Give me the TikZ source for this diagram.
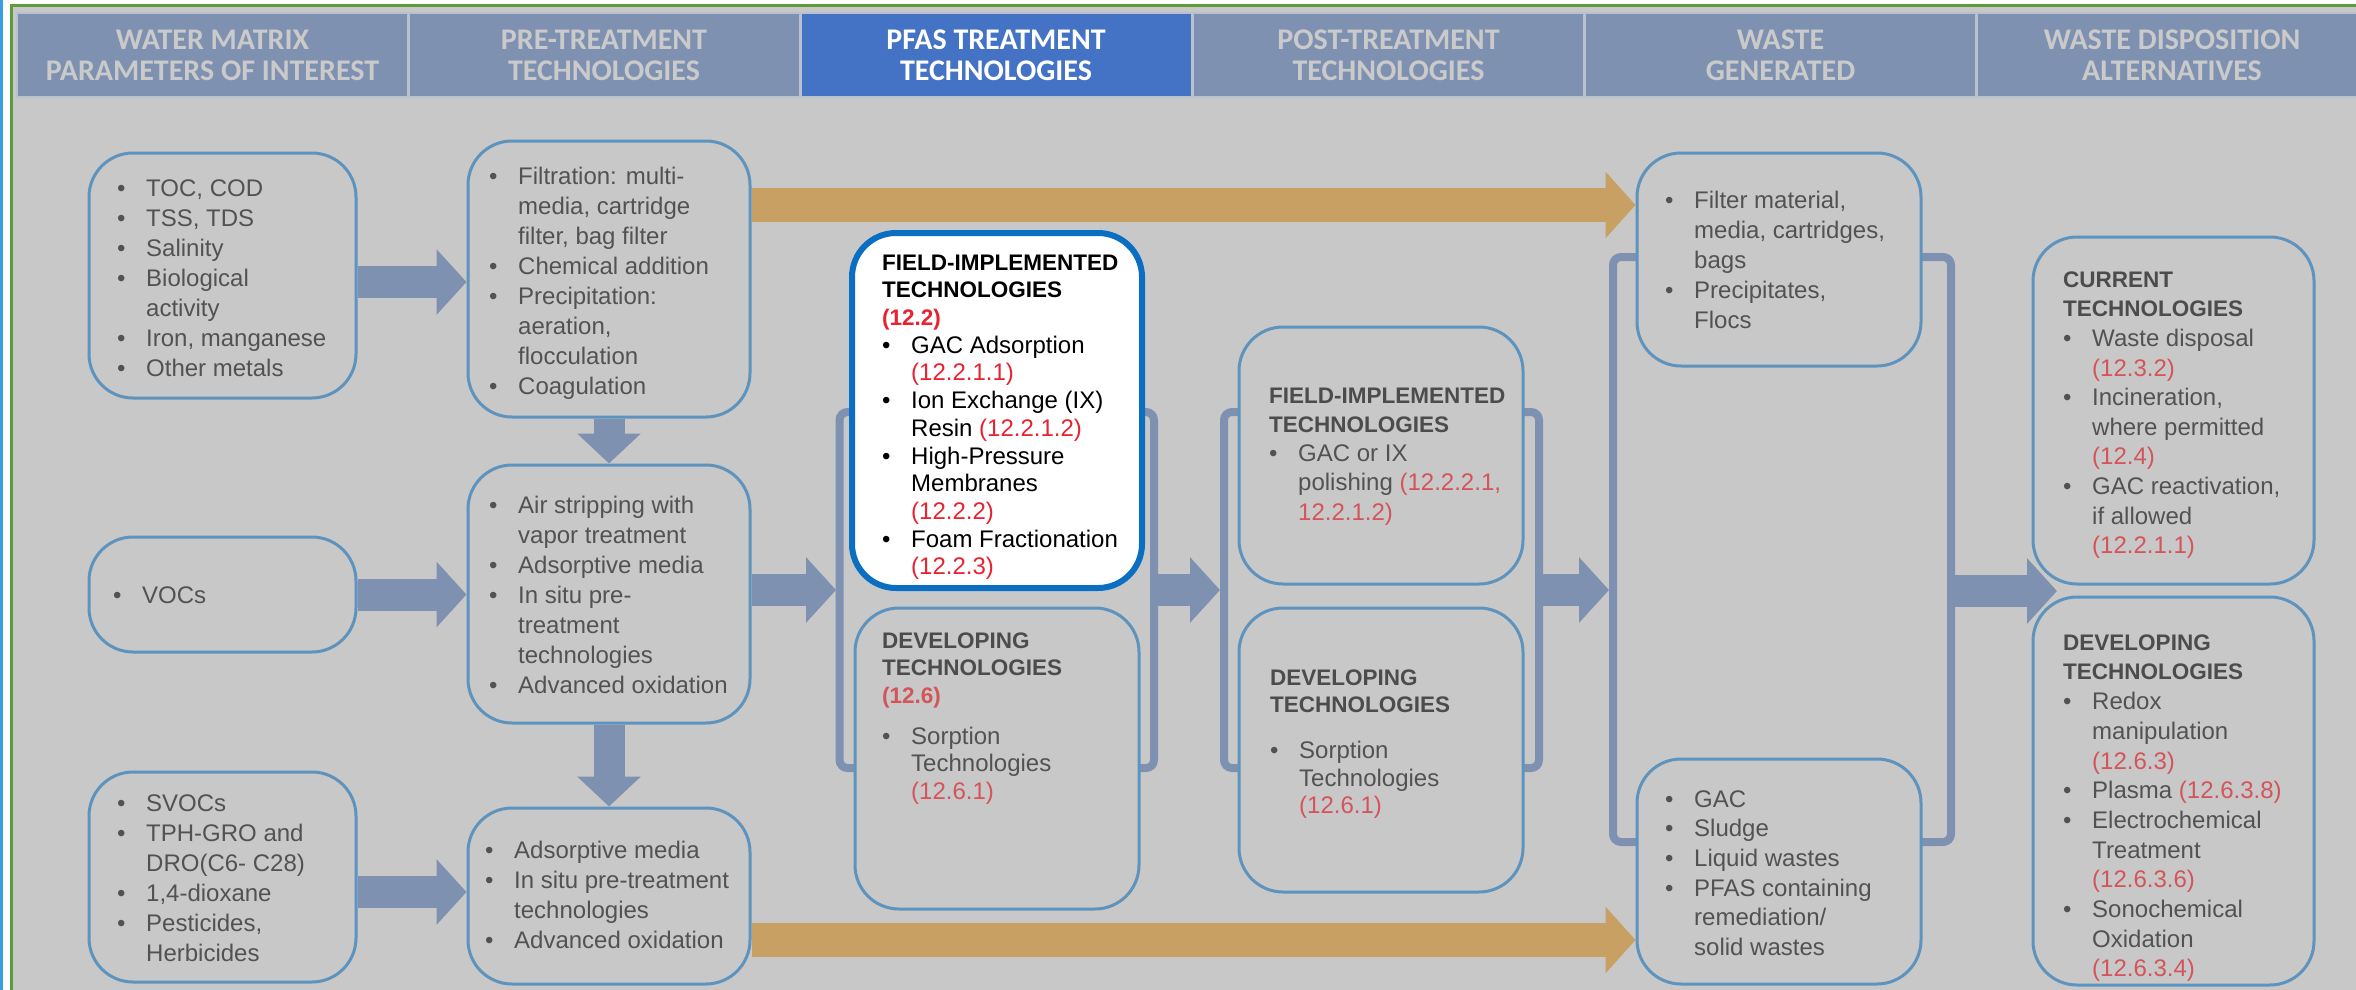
\documentclass[tikz,border=0pt]{standalone}
\usepackage{fontspec}
\setmainfont{Liberation Sans}
\newfontfamily\hdrfont{Carlito}
\usetikzlibrary{arrows.meta}
\pgfdeclarelayer{back}
\pgfdeclarelayer{mid}
\pgfsetlayers{back,mid,main}
\definecolor{bg}{HTML}{C8C8C8}
\definecolor{hdr}{HTML}{7F91B1}
\definecolor{hdrtxt}{HTML}{CACACA}
\definecolor{hdrblue}{HTML}{4472C4}
\definecolor{sepc}{HTML}{B9C1CF}
\definecolor{boxline}{HTML}{5E93BE}
\definecolor{flow}{HTML}{7F91B1}
\definecolor{gold}{HTML}{C9A063}
\definecolor{txt}{HTML}{525252}
\definecolor{htxt}{HTML}{4C4C4C}
\definecolor{ref}{HTML}{D4545A}
\definecolor{refb}{HTML}{E8232F}
\definecolor{dblue}{HTML}{0A6FC2}
\definecolor{frgreen}{HTML}{5E9B3A}
\definecolor{frblue}{HTML}{3A9FE0}
\newcommand\bu{\strut\makebox[29pt][l]{\textbullet}}
\newcommand\ind{\strut\hspace*{29pt}}
\newcommand\hd[1]{\strut{\fontsize{22.5}{27}\selectfont\bfseries #1}}
\newcommand\rf[1]{\textcolor{ref}{#1}}
\newcommand\rfb[1]{\textcolor{refb}{#1}}
\begin{document}
\begin{tikzpicture}[x=1pt,y=-1pt,
  hdrcell/.style={fill=hdr, draw=sepc, line width=2pt, minimum width=391pt, minimum height=84pt, inner sep=0pt, text=hdrtxt, align=center, font=\fontsize{30}{31}\hdrfont\bfseries},
  box/.style={draw=boxline, line width=3pt, rounded corners=44pt, fill=bg, inner sep=0pt},
  pbox/.style={draw=dblue, line width=6pt, rounded corners=44pt, fill=white, inner sep=0pt},
  txtblk/.style={anchor=north west, inner sep=0pt, align=left, text=txt},
  fs/.style={font=\fontsize{24}{#1}\selectfont},
  barrow/.style={draw=flow, line width=32pt, -{Triangle[length=30pt,width=64pt]}},
  darrow/.style={draw=flow, line width=31pt, -{Triangle[length=30pt,width=62pt]}},
  garrow/.style={draw=gold, line width=34pt, -{Triangle[length=30pt,width=65pt]}},
  bracket/.style={draw=flow, line width=8pt, rounded corners=8pt}
]
\useasboundingbox (0,0) rectangle (2356,990);
\begin{pgfonlayer}{back}
% background and frame
\fill[white] (0,0) rectangle (2356,990);
\fill[bg] (12,7) rectangle (2356,990);
\draw[frgreen, line width=3pt] (11,990) -- (11,5.5) -- (2356,5.5);
\draw[frblue, line width=3pt] (1.5,0) -- (1.5,990);
% header
\node[hdrcell] (h1) at (212.5,55) {WATER MATRIX\\PARAMETERS OF INTEREST};
\node[hdrcell] (h2) at (604,55) {PRE-TREATMENT\\TECHNOLOGIES};
\node[hdrcell, fill=hdrblue, text=white] (h3) at (996,55) {PFAS TREATMENT\\TECHNOLOGIES};
\node[hdrcell] (h4) at (1388.5,55) {POST-TREATMENT\\TECHNOLOGIES};
\node[hdrcell] (h5) at (1780.5,55) {WASTE\\GENERATED};
\node[hdrcell] (h6) at (2172,55) {WASTE DISPOSITION\\ALTERNATIVES};
\end{pgfonlayer}

% boxes
\node[box, minimum width=267pt, minimum height=245pt] (A1) at (222.5,275.5) {};
\node[box, minimum width=267pt, minimum height=115pt] (A2) at (222.5,594.5) {};
\node[box, minimum width=267pt, minimum height=210pt] (A3) at (222.5,877) {};
\node[box, minimum width=282pt, minimum height=276pt] (B1) at (609,279) {};
\node[box, minimum width=282pt, minimum height=258pt] (B2) at (609,594) {};
\node[box, minimum width=282pt, minimum height=176pt] (B3) at (609,896) {};
\node[pbox, minimum width=290pt, minimum height=355pt] (D1) at (997,410.5) {};
\node[box, minimum width=284pt, minimum height=301pt] (D2) at (997,758.5) {};
\node[box, minimum width=284pt, minimum height=257pt] (F1) at (1381,455.5) {};
\node[box, minimum width=284pt, minimum height=284pt] (F2) at (1381,750) {};
\node[box, minimum width=284pt, minimum height=213pt] (C1) at (1779,259.5) {};
\node[box, minimum width=284pt, minimum height=225pt] (C2) at (1779,871.5) {};
\node[box, minimum width=281pt, minimum height=347pt] (E1) at (2173.5,410.5) {};
\node[box, minimum width=281pt, minimum height=388pt] (E2) at (2173.5,791) {};

% bracket and arrow coordinates
\coordinate (pL) at (836,590);
\coordinate (pR) at (1158,590);
\coordinate (qL) at (1220,590);
\coordinate (qR) at (1543,590);
\coordinate (wL) at (1609,590);
\coordinate (wR) at (1955,591);
\coordinate (dtip) at (2057,591);
\coordinate (a1) at (B1.west |- 0,282);
\coordinate (a3) at (B3.west |- 0,892);
\coordinate (g1) at (C1.west |- 0,205);
\coordinate (g2) at (C2.west |- 0,940);

\begin{pgfonlayer}{mid}
% brackets
\draw[bracket] (862,412) -- (839.5,412) -- (839.5,768) -- (862,768);
\draw[bracket] (1134,412) -- (1154,412) -- (1154,768) -- (1134,768);
\draw[bracket] (1247,412) -- (1224,412) -- (1224,768) -- (1247,768);
\draw[bracket] (1515,412) -- (1539,412) -- (1539,768) -- (1515,768);
\draw[bracket] (1645,257) -- (1613,257) -- (1613,842) -- (1645,842);
\draw[bracket] (1913,257) -- (1951,257) -- (1951,842) -- (1913,842);
% arrows
\draw[barrow] (A1.east |- a1) -- (a1);
\draw[barrow] (A2.east) -- (A2.east -| B2.west);
\draw[barrow] (A3.east |- a3) -- (a3);
\draw[darrow] (B1.south) -- (B2.north);
\draw[darrow] (B2.south) -- (B3.north);
\draw[barrow] (B2.east |- pL) -- (pL);
\draw[barrow] (pR) -- (qL);
\draw[barrow] (qR) -- (wL);
\draw[barrow] (wR) -- (dtip);
\draw[garrow] (B1.east |- g1) -- (g1);
\draw[garrow] (B3.east |- g2) -- (g2);
\end{pgfonlayer}

% texts
\node[txtblk, fs=30] (tA1) at (117,175) {\bu TOC, COD\\ \bu TSS, TDS\\ \bu Salinity\\ \bu Biological\\ \ind activity\\ \bu Iron, manganese\\ \bu Other metals};
\node[txtblk, fs=30] (tA2) at (113,582) {\bu VOCs};
\node[txtblk, fs=30] (tA3) at (117,790) {\bu SVOCs\\ \bu TPH-GRO and\\ \ind DRO(C6- C28)\\ \bu 1,4-dioxane\\ \bu Pesticides,\\ \ind Herbicides};
\node[txtblk, fs=30] (tB1) at (489,163) {\bu Filtration: multi-\\ \ind media, cartridge\\ \ind filter, bag filter\\ \bu Chemical addition\\ \bu Precipitation:\\ \ind aeration,\\ \ind flocculation\\ \bu Coagulation};
\node[txtblk, fs=30] (tB2) at (489,492) {\bu Air stripping with\\ \ind vapor treatment\\ \bu Adsorptive media\\ \bu In situ pre-\\ \ind treatment\\ \ind technologies\\ \bu Advanced oxidation};
\node[txtblk, fs=30] (tB3) at (485,837) {\bu Adsorptive media\\ \bu In situ pre-treatment\\ \ind technologies\\ \bu Advanced oxidation};
\node[txtblk, fs=27.7, text=black] (tD1) at (882,250.6) {\hd{FIELD-IMPLEMENTED}\\ \hd{TECHNOLOGIES}\\ \hd{\rfb{(12.2)}}\\ \bu GAC Adsorption\\ \ind\rfb{(12.2.1.1)}\\ \bu Ion Exchange (IX)\\ \ind Resin \rfb{(12.2.1.2)}\\ \bu High-Pressure\\ \ind Membranes\\ \ind\rfb{(12.2.2)}\\ \bu Foam Fractionation\\ \ind\rfb{(12.2.3)}};
\node[txtblk, fs=27.5] (tD2) at (882,628.75) {\hd{\textcolor{htxt}{DEVELOPING}}\\ \hd{\textcolor{htxt}{TECHNOLOGIES}}\\ \hd{\rf{(12.6)}}\\[13.5pt] \bu Sorption\\ \ind Technologies\\ \ind\rf{(12.6.1)}};
\node[txtblk, fs=29.25] (tF1) at (1269,382.5) {\hd{\textcolor{htxt}{FIELD-IMPLEMENTED}}\\ \hd{\textcolor{htxt}{TECHNOLOGIES}}\\ \bu GAC or IX\\ \ind polishing \rf{(12.2.2.1,}\\ \ind\rf{12.2.1.2)}};
\node[txtblk, fs=27.5] (tF2) at (1270,665.75) {\hd{\textcolor{htxt}{DEVELOPING}}\\ \hd{\textcolor{htxt}{TECHNOLOGIES}}\\[18.5pt] \bu Sorption\\ \ind Technologies\\ \ind\rf{(12.6.1)}};
\node[txtblk, fs=30] (tC1) at (1665,187) {\bu Filter material,\\ \ind media, cartridges,\\ \ind bags\\ \bu Precipitates,\\ \ind Flocs};
\node[txtblk, fs=29.6] (tC2) at (1665,786.3) {\bu GAC\\ \bu Sludge\\ \bu Liquid wastes\\ \bu PFAS containing\\ \ind remediation/\\ \ind solid wastes};
\node[txtblk, fs=29.6] (tE1) at (2063,266.3) {\hd{\textcolor{htxt}{CURRENT}}\\ \hd{\textcolor{htxt}{TECHNOLOGIES}}\\ \bu Waste disposal\\ \ind\rf{(12.3.2)}\\ \bu Incineration,\\ \ind where permitted\\ \ind\rf{(12.4)}\\ \bu GAC reactivation,\\ \ind if allowed\\ \ind\rf{(12.2.1.1)}};
\node[txtblk, fs=29.7] (tE2) at (2063,629.2) {\hd{\textcolor{htxt}{DEVELOPING}}\\ \hd{\textcolor{htxt}{TECHNOLOGIES}}\\ \bu Redox\\ \ind manipulation\\ \ind\rf{(12.6.3)}\\ \bu Plasma \rf{(12.6.3.8)}\\ \bu Electrochemical\\ \ind Treatment\\ \ind\rf{(12.6.3.6)}\\ \bu Sonochemical\\ \ind Oxidation\\ \ind\rf{(12.6.3.4)}};
\end{tikzpicture}
\end{document}
